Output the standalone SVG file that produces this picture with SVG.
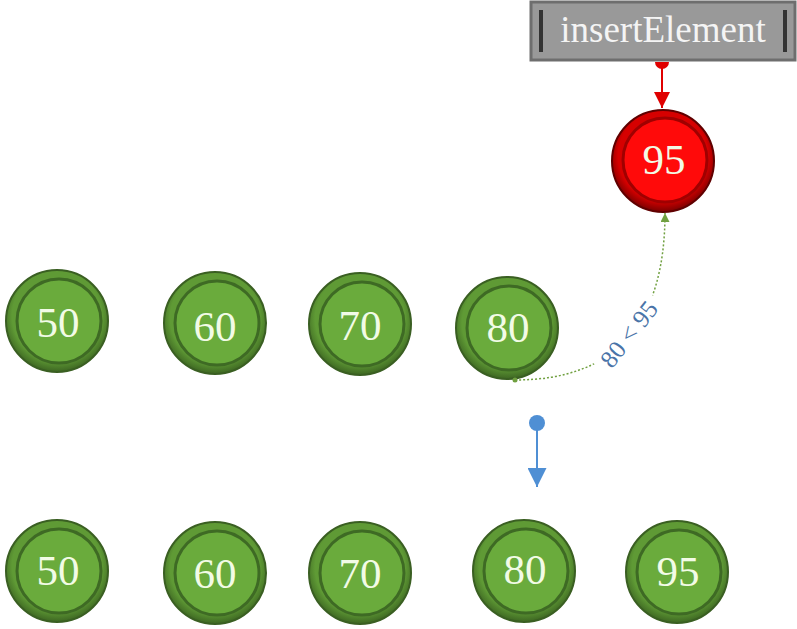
<svg xmlns="http://www.w3.org/2000/svg" width="797" height="629" viewBox="0 0 797 629">
<defs>
<radialGradient id="gRing" cx="50%" cy="45%" r="55%">
<stop offset="0.8" stop-color="#5f9a35"/>
<stop offset="1" stop-color="#3d6622"/>
</radialGradient>
<radialGradient id="rRing" cx="50%" cy="45%" r="55%">
<stop offset="0.8" stop-color="#d60000"/>
<stop offset="1" stop-color="#7a0000"/>
</radialGradient>
<marker id="redArrow" viewBox="0 0 10 10" refX="10" refY="5" markerWidth="16" markerHeight="16" orient="auto" markerUnits="userSpaceOnUse">
<path d="M0,0 L10,5 L0,10 z" fill="#e00000"/>
</marker>
<marker id="greenArrow" viewBox="0 0 10 10" refX="10" refY="5" markerWidth="6" markerHeight="6" orient="auto">
<path d="M0,0 L10,5 L0,10 z" fill="#70a040"/>
</marker>
<marker id="blueArrow" viewBox="0 0 10 10" refX="10" refY="5" markerWidth="19" markerHeight="19" orient="auto" markerUnits="userSpaceOnUse">
<path d="M0,0 L10,5 L0,10 z" fill="#4f8fd4"/>
</marker>
</defs>
<style>
.g-outer{fill:url(#gRing);stroke:#3a5f22;stroke-width:2}
.g-inner{fill:#6aab3c;stroke:#3e6a24;stroke-width:3}
.r-outer{fill:url(#rRing);stroke:#600000;stroke-width:2}
.r-inner{fill:#ff0a0a;stroke:#a00000;stroke-width:3}
.num{font-family:"Liberation Serif","DejaVu Serif",serif;font-size:43px;fill:#f2fbe6;text-anchor:middle;dominant-baseline:central}
.lbl{font-family:"Liberation Serif","DejaVu Serif",serif;font-size:37px;fill:#f4f4f4;text-anchor:middle;dominant-baseline:central}
.cmp{font-family:"Liberation Serif","DejaVu Serif",serif;font-size:25px;fill:#4a74a8;text-anchor:middle;dominant-baseline:central}
</style>

<g id="insertElement">
<rect x="531" y="2" width="264" height="58" fill="#999999" stroke="#6e6e6e" stroke-width="3"/>
<rect x="539" y="10" width="4" height="42" fill="#333333"/>
<rect x="783" y="10" width="4" height="42" fill="#333333"/>
<text class="lbl" x="663" y="29">insertElement</text>
</g>

<g id="node-red-95">
<circle class="r-outer" cx="663" cy="161" r="51"/>
<circle class="r-inner" cx="665" cy="160" r="42"/>
<text class="num" x="664" y="159">95</text>
</g>

<g id="top-50">
<circle class="g-outer" cx="57" cy="321" r="51"/>
<circle class="g-inner" cx="59" cy="321" r="42"/>
<text class="num" x="58" y="322">50</text>
</g>
<g id="top-60">
<circle class="g-outer" cx="215" cy="323" r="51"/>
<circle class="g-inner" cx="217" cy="323" r="42"/>
<text class="num" x="215" y="326">60</text>
</g>
<g id="top-70">
<circle class="g-outer" cx="360" cy="324" r="51"/>
<circle class="g-inner" cx="362" cy="324" r="42"/>
<text class="num" x="360" y="325">70</text>
</g>
<g id="top-80">
<circle class="g-outer" cx="507" cy="328" r="51"/>
<circle class="g-inner" cx="509" cy="328" r="42"/>
<text class="num" x="508" y="327">80</text>
</g>

<g id="bottom-50">
<circle class="g-outer" cx="57" cy="571" r="51"/>
<circle class="g-inner" cx="59" cy="571" r="42"/>
<text class="num" x="58" y="570">50</text>
</g>
<g id="bottom-60">
<circle class="g-outer" cx="215" cy="573" r="51"/>
<circle class="g-inner" cx="217" cy="573" r="42"/>
<text class="num" x="215" y="573">60</text>
</g>
<g id="bottom-70">
<circle class="g-outer" cx="360" cy="573" r="51"/>
<circle class="g-inner" cx="362" cy="573" r="42"/>
<text class="num" x="360" y="573">70</text>
</g>
<g id="bottom-80">
<circle class="g-outer" cx="524" cy="571" r="51"/>
<circle class="g-inner" cx="526" cy="571" r="42"/>
<text class="num" x="525" y="569">80</text>
</g>
<g id="bottom-95">
<circle class="g-outer" cx="677" cy="572" r="51"/>
<circle class="g-inner" cx="679" cy="572" r="42"/>
<text class="num" x="678" y="571">95</text>
</g>

<g id="connectors">
<path d="M655,62 A7,7 0 0 0 669,62 z" fill="#e00000"/>
<line x1="662" y1="62" x2="662" y2="108" stroke="#e00000" stroke-width="2" marker-end="url(#redArrow)"/>
<circle cx="515" cy="380" r="2.5" fill="#70a040"/>
<path d="M515,380 Q665,380 665,213" fill="none" stroke="#70a040" stroke-width="1.5" stroke-dasharray="2,2" marker-end="url(#greenArrow)"/>
<g transform="rotate(-52 629 334)">
<rect x="584" y="322" width="90" height="24" fill="#ffffff"/>
<text class="cmp" x="629" y="334">80 &lt; 95</text>
</g>
<circle cx="537" cy="423" r="8" fill="#4f8fd4"/>
<line x1="537" y1="423" x2="537" y2="487" stroke="#4f8fd4" stroke-width="2" marker-end="url(#blueArrow)"/>
</g>
</svg>
